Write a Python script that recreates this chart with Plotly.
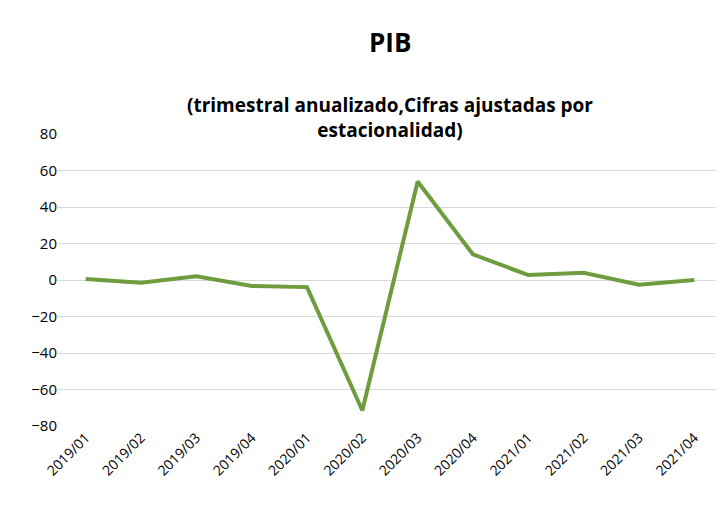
import plotly.graph_objects as go

quarters = ["2019/01", "2019/02", "2019/03", "2019/04", "2020/01", "2020/02",
            "2020/03", "2020/04", "2021/01", "2021/02", "2021/03", "2021/04"]
pib = [0.5, -1.5, 2.0, -3.3, -3.9, -71.5, 54.0, 14.0, 2.7, 4.0, -2.6, 0.0]

fig = go.Figure(go.Scatter(x=quarters, y=pib, mode="lines",
                           line=dict(color="#6E9C3F", width=4)))

fig.update_layout(
    width=724, height=506,
    margin=dict(l=50, r=10, t=126, b=88),
    paper_bgcolor="white", plot_bgcolor="white",
    font=dict(family="Open Sans, Arial", color="black"),
    showlegend=False,
)
fig.add_annotation(text="<b>PIB</b>", xref="paper", yref="paper", x=0.5, y=1.0,
                   yshift=112, showarrow=False, font=dict(size=26))
fig.add_annotation(text="<b>(trimestral anualizado,Cifras ajustadas por<br>estacionalidad)</b>",
                   xref="paper", yref="paper", x=0.5, y=1.0, yshift=44,
                   showarrow=False, font=dict(size=19))
fig.update_xaxes(type="category", tickangle=-45, tickfont=dict(size=14),
                 range=[-0.5, 11.5],
                 showgrid=False, showline=False, ticks="")
fig.update_yaxes(range=[-80, 80], dtick=20, tickfont=dict(size=15),
                 showgrid=True, gridcolor="#D9D9D9", zeroline=False,
                 showline=False, ticks="")

fig.write_html("out.html")
